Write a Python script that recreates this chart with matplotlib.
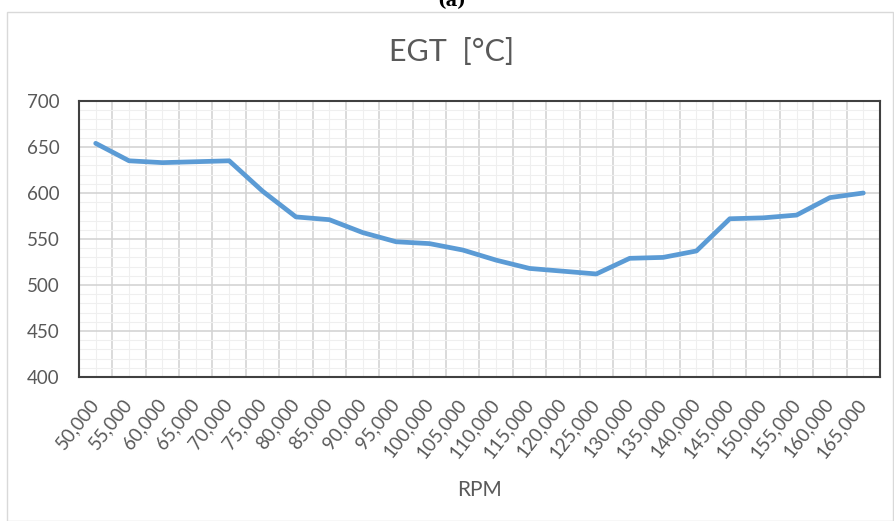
import matplotlib
matplotlib.use("Agg")
import matplotlib.pyplot as plt
from matplotlib.patches import Rectangle
from matplotlib.ticker import MultipleLocator, FixedLocator

# engine speed categories and exhaust gas temperature
rpm = [50000, 55000, 60000, 65000, 70000, 75000, 80000, 85000, 90000, 95000,
       100000, 105000, 110000, 115000, 120000, 125000, 130000, 135000, 140000,
       145000, 150000, 155000, 160000, 165000]
egt = [654, 635, 633, 634, 635, 602, 574, 571, 557, 547,
       545, 538, 527, 518, 515, 512, 529, 530, 537,
       572, 573, 576, 595, 600]
rpm_labels = ["{:,}".format(v) for v in rpm]

plt.rcParams['font.family'] = ['Lato', 'DejaVu Sans']
text_gray = '#595959'

fig = plt.figure(figsize=(8.95, 5.21), dpi=100)

# chart area frame
fig.patches.append(Rectangle((7 / 895, 0), 886 / 895, 509 / 521,
                             transform=fig.transFigure, fill=False,
                             edgecolor='#D9D9D9', linewidth=1.0))
fig.text(0.505, 0.997, "(a)", ha='center', va='center', fontsize=13,
         fontweight='bold', family='DejaVu Serif')

ax = fig.add_axes([79 / 895, 1 - 377 / 521, 801 / 895, 276 / 521])
x = list(range(len(rpm)))
ax.plot(x, egt, color='#5B9BD5', linewidth=3.4, solid_joinstyle='round',
        solid_capstyle='round', zorder=3)

ax.set_xlim(-0.5, len(rpm) - 0.5)
ax.set_ylim(400, 700)
ax.xaxis.set_major_locator(FixedLocator([i - 0.5 for i in range(len(rpm) + 1)]))
ax.xaxis.set_minor_locator(FixedLocator(x))
ax.set_xticklabels([])
ax.set_xticklabels(rpm_labels, minor=True, rotation=52, ha='right',
                   va='center', rotation_mode='anchor', fontsize=13.5,
                   color=text_gray)
ax.yaxis.set_major_locator(MultipleLocator(50))
ax.yaxis.set_minor_locator(MultipleLocator(10))
ax.tick_params(axis='y', which='major', length=0, pad=14, labelsize=13.5,
               labelcolor=text_gray)
ax.tick_params(axis='y', which='minor', length=0)
ax.tick_params(axis='x', which='both', length=0, pad=17)

ax.grid(which='major', color='#D4D4D4', linewidth=1.2)
ax.grid(which='minor', color='#EFEFEF', linewidth=0.8)
ax.set_axisbelow(True)
for s in ax.spines.values():
    s.set_color('#404040')
    s.set_linewidth(1.5)

ax.set_xlabel("RPM", fontsize=15, color=text_gray, labelpad=14)
fig.text(0.505, 1 - 52 / 521, "EGT  [°C]", ha='center', va='center',
         fontsize=22, color=text_gray)

fig.savefig("out.png", dpi=100)
